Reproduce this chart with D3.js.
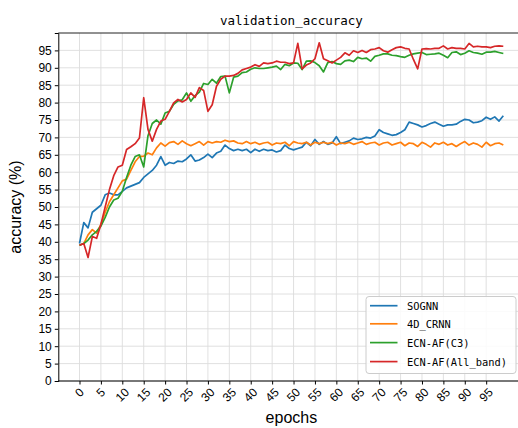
<!DOCTYPE html>
<html>
<head>
<meta charset="utf-8">
<script src="https://cdn.jsdelivr.net/npm/d3@7"></script>
<style>
html,body{margin:0;padding:0;background:#fff;overflow:hidden;}
svg{display:block;}
</style>
</head>
<body>
<svg id="chart" width="518" height="428"></svg>
<script>
const epochs = d3.range(0, 100);
const xTicks = d3.range(0, 100, 5);
const yTicks = d3.range(0, 100, 5);
const seriesNames = ["SOGNN", "4D_CRNN", "ECN-AF(C3)", "ECN-AF(All_band)"];
const seriesColors = ["#1f77b4", "#ff7f0e", "#2ca02c", "#d62728"];

const sognn = [39.5,45.5,44,48.5,49.5,50.5,53.5,54,53.5,53.5,
54.5,55.5,56,56.5,57,58.5,59.5,60.5,62,64.5,
62,62.8,62.5,63.2,63,63.8,65,63.2,63.5,64.2,
65.2,64.2,65.5,66,67.8,66.8,66.2,66.6,66.2,66.6,
65.6,66.6,66,66.6,66.2,66.4,65.8,66.2,67.8,66.8,
66.4,66.8,67.2,68.6,67.6,69.4,68,68.8,68,68.4,
70.2,68.2,68.6,69,69.8,69.4,69.6,70,69.8,70.4,
72.2,71.4,71,70.6,70.8,71.4,72.2,74.4,74,73.6,
73,73.4,74,74.4,73.8,73.2,73.6,73.6,73.8,74.6,
75.2,75,74.2,74.4,74.8,75.8,75.2,75.9,74.7,76.2];

const crnn4d = [39,39.5,42,43.5,42.5,45,48.5,51.5,53.5,55.5,
57.5,58,60.5,63,64.5,64.6,65.5,65,67,68.4,
67.5,68.5,68.8,68,69,68.2,67.6,68.2,68.8,67.8,
68.8,68.4,68.8,68.6,69.2,68.8,69,68.4,68.2,68.8,
68.2,68.6,68,68.4,68.6,67.8,68.4,68.2,68.6,67.6,
68.8,68.4,68.2,68.6,67.8,68.6,68.2,68.6,68.2,68.6,
67.8,68.4,68.2,68.6,68,68.4,68.8,68,68.4,68.6,
67.8,68.4,68.6,67.8,68.2,68.6,67.6,68.4,68.2,67.4,
68.6,68,67.2,68.4,68,68.6,67.8,68.2,67.4,68.2,
68.8,67.8,68.4,68,67.2,68.6,67.6,68.2,68.4,67.8];

const ecnC3 = [39,39.5,40.5,42,43,44.5,47,50,52,52.5,
54.5,58.5,62,64.5,65,61.5,70.5,74,75,73.8,
77,77.5,79.5,80.5,80.8,82.8,80.4,82,83,85.5,
85.2,86.7,85.6,87.5,87.6,82.8,87.3,87.6,88.6,88.8,
89.6,90,89.8,89.8,90,90.2,90.5,89.5,91,90.6,
91.4,91.3,89.5,91.9,92,91.5,90.6,88.8,91.5,91.8,
91.2,91,92,92.2,91.8,93,92.6,92.8,91.9,93.3,
93.6,94,94,93.6,93.5,93.2,93,93.6,94,94.2,
94.4,93.8,93.9,94,94.2,93.6,92.9,94.4,94.6,93.8,
94.2,94.9,94.4,94.2,93.9,94.5,94.5,94.7,94.4,94.1];

const ecnAll = [39,39.5,35.5,41.5,41,45,50,55,59,61.5,
62,66.5,67.3,68.2,69.8,81.4,72.3,68.9,72.3,74.7,
75.2,77.5,79.9,80.9,80.2,80.9,82.8,81.5,84.3,83.5,
77.5,79.4,84.7,86.7,87.6,87.6,87.8,88.4,89.4,89.8,
90.2,90.9,90.4,91.4,91.2,91.4,91.9,91.6,91.6,91.2,
91.4,97,89.7,90.8,91.4,92.6,97.2,92.6,92,91.4,
92.2,93,94.3,93.6,94.9,94.4,95,94.4,95.2,95.4,
95.8,94.9,94.5,95.2,95.8,96,95.6,95.4,92.4,89.7,
95.4,95.5,95.4,95.6,95.6,96.3,95.4,95.8,95.6,95.6,
95.4,97,96,96.2,96,96,95.8,96.2,96.3,96.2];

const seriesValues = [sognn, crnn4d, ecnC3, ecnAll];

const W = 518, H = 428;
const plot = {left: 58.3, top: 33, right: 524.5, bottom: 381};
const svg = d3.select("#chart");

const x = d3.scaleLinear().domain([-4.95, 103.95]).range([plot.left, plot.right]);
const y = d3.scaleLinear().domain([0, 100]).range([plot.bottom, plot.top]);

svg.append("defs").append("clipPath").attr("id", "clip")
  .append("rect").attr("x", plot.left).attr("y", plot.top)
  .attr("width", plot.right - plot.left).attr("height", plot.bottom - plot.top);

// grid
const grid = svg.append("g").attr("stroke", "#dcdcdc").attr("stroke-width", 0.9);
grid.selectAll("line.v").data(xTicks).join("line")
  .attr("x1", d => x(d)).attr("x2", d => x(d))
  .attr("y1", plot.top).attr("y2", plot.bottom);
grid.selectAll("line.h").data(yTicks).join("line")
  .attr("x1", plot.left).attr("x2", plot.right)
  .attr("y1", d => y(d)).attr("y2", d => y(d));

// lines
const line = d3.line().x((d, i) => x(epochs[i])).y(d => y(d));
const lines = svg.append("g").attr("clip-path", "url(#clip)");
seriesValues.forEach((vals, k) => {
  lines.append("path").datum(vals)
    .attr("d", line)
    .attr("fill", "none")
    .attr("stroke", seriesColors[k])
    .attr("stroke-width", 1.7)
    .attr("stroke-linejoin", "round");
});

// axes
const yAxis = d3.axisLeft(y).tickValues(yTicks).tickSize(3.5).tickPadding(3).tickFormat(d3.format("d"));
const yG = svg.append("g").attr("transform", `translate(${plot.left},0)`).call(yAxis);
yG.select(".domain").attr("stroke", "#000").attr("stroke-width", 1);
yG.selectAll(".tick line").attr("stroke", "#000");
yG.selectAll("text").attr("font-family", "Liberation Sans, Arial, sans-serif").attr("font-size", 12).attr("fill", "#000");

const xAxis = d3.axisBottom(x).tickValues(xTicks).tickSize(3.5).tickFormat("");
const xG = svg.append("g").attr("transform", `translate(0,${plot.bottom})`).call(xAxis);
xG.select(".domain").remove();
xG.selectAll(".tick line").attr("stroke", "#000");
svg.append("line").attr("x1", plot.left).attr("x2", plot.right)
  .attr("y1", plot.bottom).attr("y2", plot.bottom).attr("stroke", "#000").attr("stroke-width", 1);
svg.append("line").attr("x1", plot.left).attr("x2", plot.right)
  .attr("y1", plot.top).attr("y2", plot.top).attr("stroke", "#222").attr("stroke-width", 1);

// rotated x tick labels
svg.append("g").selectAll("text").data(xTicks).join("text")
  .attr("transform", d => {
    const n = String(d).length;
    const ext = (n * 6.7 + 12) * 0.7071 / 2;
    return `translate(${x(d)},${plot.bottom + 5 + ext}) rotate(-45)`;
  })
  .attr("text-anchor", "middle")
  .attr("dominant-baseline", "central")
  .attr("font-family", "Liberation Sans, Arial, sans-serif")
  .attr("font-size", 12)
  .attr("fill", "#000")
  .text(d => d);

// title
svg.append("text").attr("x", (plot.left + plot.right) / 2).attr("y", 24.5)
  .attr("text-anchor", "middle")
  .attr("font-family", "DejaVu Sans Mono, monospace")
  .attr("font-size", 12.5).attr("fill", "#000")
  .text("validation_accuracy");

// axis labels
svg.append("text").attr("x", (plot.left + plot.right) / 2).attr("y", 423)
  .attr("text-anchor", "middle")
  .attr("font-family", "Liberation Sans, Arial, sans-serif")
  .attr("font-size", 16).attr("fill", "#000")
  .text("epochs");
svg.append("text")
  .attr("transform", `translate(21,${(plot.top + plot.bottom) / 2}) rotate(-90)`)
  .attr("text-anchor", "middle")
  .attr("font-family", "Liberation Sans, Arial, sans-serif")
  .attr("font-size", 16).attr("fill", "#000")
  .text("accuracy (%)");

// legend
const lg = svg.append("g");
lg.append("rect").attr("x", 366).attr("y", 296.5).attr("width", 150).attr("height", 77)
  .attr("rx", 3).attr("fill", "#fff").attr("fill-opacity", 0.85)
  .attr("stroke", "#cccccc").attr("stroke-width", 1);
const ly = [305.7, 323.8, 342.6, 361.6];
seriesNames.forEach((name, k) => {
  lg.append("line").attr("x1", 370).attr("x2", 397.5)
    .attr("y1", ly[k]).attr("y2", ly[k])
    .attr("stroke", seriesColors[k]).attr("stroke-width", 1.7);
  lg.append("text").attr("x", 407).attr("y", ly[k])
    .attr("dominant-baseline", "central")
    .attr("font-family", "DejaVu Sans Mono, monospace")
    .attr("font-size", 10.4).attr("fill", "#000")
    .text(name);
});
</script>
</body>
</html>
